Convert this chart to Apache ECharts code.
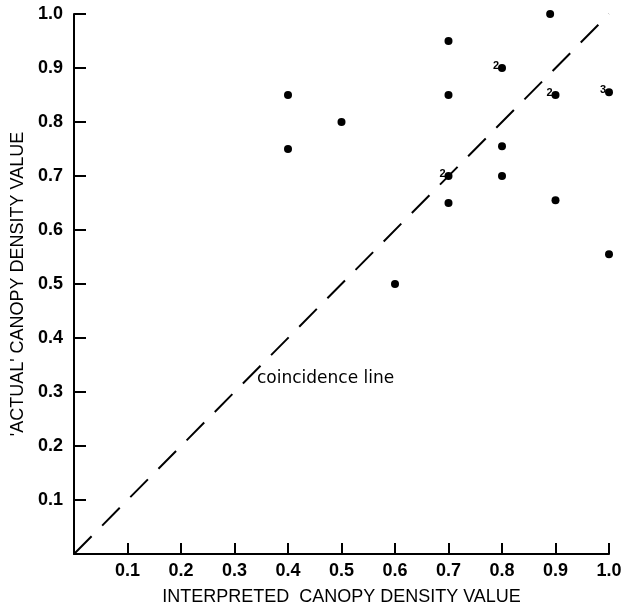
<!DOCTYPE html>
<html lang="en">
<head>
    <meta charset="UTF-8">
    <title>Canopy density</title>
    <script src="https://cdn.jsdelivr.net/npm/echarts@6/dist/echarts.min.js"></script>
</head>
<style>
    html, body {margin: 0; padding: 0; background: #fff;}
</style>
<body>
    <div id="chart" style="width: 631px;height: 606px"></div>
</body>
<script>
    var interpreted = [0.4, 0.4, 0.5, 0.6, 0.7, 0.7, 0.7, 0.7, 0.8, 0.8, 0.8, 0.89, 0.9, 0.9, 1.0, 1.0];
    var actual = [0.85, 0.75, 0.8, 0.5, 0.95, 0.85, 0.7, 0.65, 0.9, 0.755, 0.7, 1.0, 0.85, 0.655, 0.855, 0.555];
    // number of coincident points (blank = 1)
    var counts = ['', '', '', '', '', '', '2', '', '2', '', '', '', '2', '', '3', ''];
    var lineX = [0, 1];
    var lineY = [0, 1];
    var noteText = 'coincidence line';
    var notePos = [0.342, 0.324];

    var chart = echarts.init(document.getElementById('chart'));

    var pts = [];
    for (var i = 0; i < interpreted.length; i++) {
        pts.push({value: [interpreted[i], actual[i]], cnt: counts[i]});
    }
    var linePts = [];
    for (var j = 0; j < lineX.length; j++) {
        linePts.push([lineX[j], lineY[j]]);
    }

    var tickFmt = function (v) {
        if (v < 0.05) return '';
        return v.toFixed(1);
    };
    var labelFont = {color: '#000', fontSize: 18, fontWeight: 'bold', fontFamily: 'Liberation Sans'};

    var option = {
        animation: false,
        grid: {left: 74, right: 22, top: 14, bottom: 52, outerBoundsMode: 'none', containLabel: false},
        xAxis: {
            type: 'value', min: 0, max: 1, interval: 0.1,
            name: 'INTERPRETED  CANOPY DENSITY VALUE',
            nameLocation: 'middle', nameGap: 34,
            nameTextStyle: {color: '#000', fontSize: 18, fontFamily: 'Liberation Sans'},
            axisLine: {lineStyle: {color: '#000', width: 2}},
            axisTick: {inside: true, length: 11, lineStyle: {color: '#000', width: 2}},
            axisLabel: Object.assign({margin: 8, formatter: tickFmt, showMinLabel: true, showMaxLabel: true}, labelFont),
            splitLine: {show: false}
        },
        yAxis: {
            type: 'value', min: 0, max: 1, interval: 0.1,
            name: '\'ACTUAL\' CANOPY DENSITY VALUE',
            nameLocation: 'middle', nameGap: 41,
            nameTextStyle: {color: '#000', fontSize: 18, fontFamily: 'Liberation Sans'},
            axisLine: {lineStyle: {color: '#000', width: 2}},
            axisTick: {inside: true, length: 12, lineStyle: {color: '#000', width: 2}},
            axisLabel: Object.assign({margin: 11, formatter: tickFmt}, labelFont),
            splitLine: {show: false}
        },
        series: [{
            type: 'line',
            data: linePts,
            symbol: 'none',
            lineStyle: {color: '#000', width: 2, type: [25, 15], opacity: 1},
            z: 1
        }, {
            type: 'scatter',
            data: pts,
            symbolSize: 8,
            itemStyle: {color: '#000', opacity: 1},
            label: {
                show: true, position: 'left', distance: -1, offset: [0, -2],
                fontSize: 11, fontWeight: 'bold', color: '#000', fontFamily: 'Liberation Sans',
                formatter: function (p) { return p.data.cnt; }
            },
            z: 3
        }, {
            type: 'scatter',
            data: [notePos],
            symbolSize: 0,
            silent: true,
            itemStyle: {opacity: 1},
            label: {
                show: true, position: 'right', distance: 0,
                fontSize: 17, color: '#000', fontFamily: 'DejaVu Sans',
                formatter: noteText
            }
        }]
    };
    chart.setOption(option);
</script>
</html>
